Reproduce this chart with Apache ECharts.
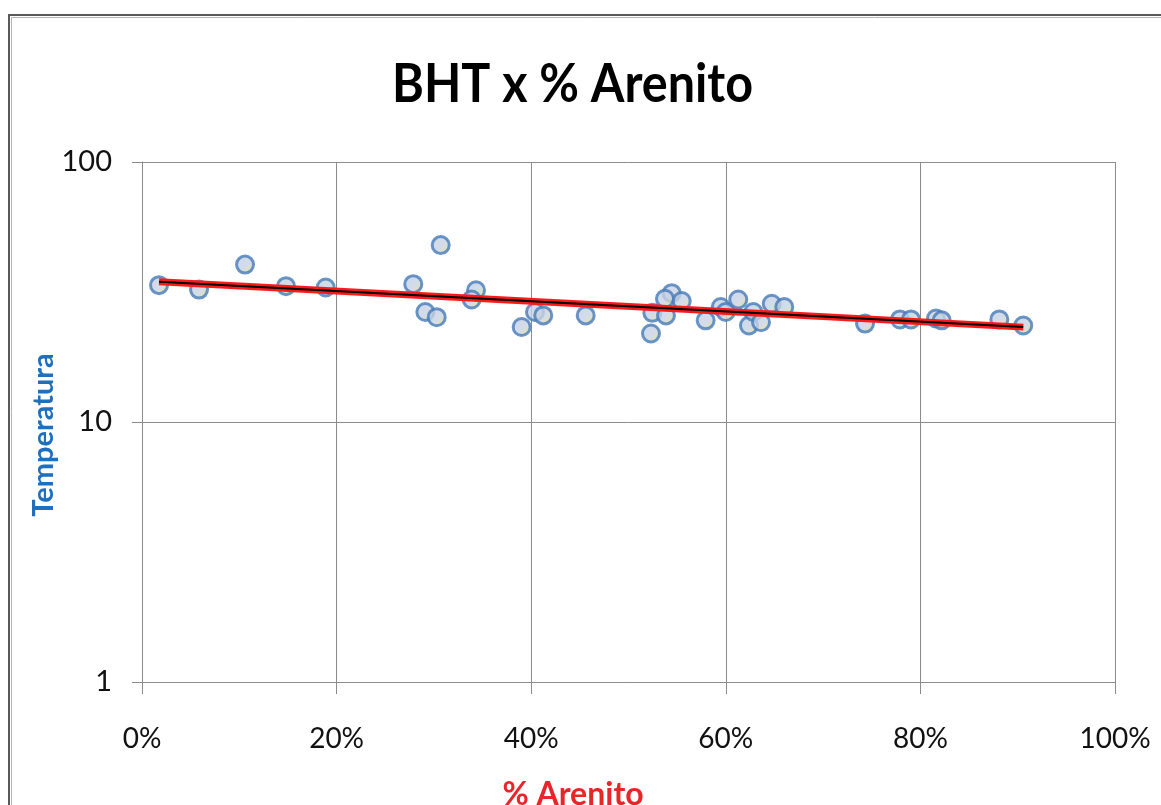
<!DOCTYPE html>
<html>
<head>
<meta charset="utf-8">
<title>BHT x % Arenito</title>
<script src="https://cdn.jsdelivr.net/npm/echarts@6/dist/echarts.min.js"></script>
<style>
  html, body { margin: 0; padding: 0; background: #ffffff; }
  #chart { width: 1161px; height: 805px; }
</style>
</head>
<body>
<div id="chart"></div>
<script>
// Sandstone fraction of each well (0–1) and the bottom-hole temperature read there
const arenito = [
  0.0175, 0.0586, 0.1059, 0.1480, 0.1888, 0.2788, 0.3070, 0.2912, 0.3029, 0.3433,
  0.3388, 0.3902, 0.4039, 0.4124, 0.4560, 0.5231, 0.5245, 0.5385, 0.5444, 0.5375,
  0.5547, 0.5793, 0.5948, 0.5999, 0.6128, 0.6238, 0.6283, 0.6362, 0.6472, 0.6601,
  0.7431, 0.7790, 0.7903, 0.8160, 0.8219, 0.8811, 0.9057
];
const temperatura = [
  33.6, 32.3, 40.3, 33.3, 32.9, 33.9, 47.9, 26.5, 25.3, 32.1,
  29.6, 23.2, 26.5, 25.7, 25.7, 21.9, 26.3, 25.7, 31.3, 29.8,
  29.2, 24.6, 27.7, 26.5, 29.6, 23.5, 26.5, 24.2, 28.5, 27.7,
  23.9, 24.8, 24.8, 25.0, 24.6, 24.8, 23.5
];

// Axis ticks
const xTicks = [0, 0.2, 0.4, 0.6, 0.8, 1.0];
const yTicks = [1, 10, 100];

const points = arenito.map((x, i) => [x, temperatura[i]]);

// Exponential trend line y = a·e^(b·x), least squares on ln(y)
function expFit(xs, ys) {
  const n = xs.length;
  let sx = 0, sy = 0, sxx = 0, sxy = 0;
  for (let i = 0; i < n; i++) {
    const ly = Math.log(ys[i]);
    sx += xs[i]; sy += ly; sxx += xs[i] * xs[i]; sxy += xs[i] * ly;
  }
  const b = (n * sxy - sx * sy) / (n * sxx - sx * sx);
  const a = Math.exp((sy - b * sx) / n);
  return { a, b };
}
const fit = expFit(arenito, temperatura);
const xMin = Math.min(...arenito), xMax = Math.max(...arenito);
const trend = [
  [xMin, fit.a * Math.exp(fit.b * xMin)],
  [xMax, fit.a * Math.exp(fit.b * xMax)]
];

const FONT = 'Lato';
const chart = echarts.init(document.getElementById('chart'), null, { renderer: 'canvas' });

chart.setOption({
  animation: false,
  backgroundColor: '#ffffff',
  grid: { left: 142, top: 162, right: 46, bottom: 123, containLabel: false },
  xAxis: {
    type: 'value',
    min: 0, max: 1, interval: 0.2,
    axisLine: { show: true, lineStyle: { color: '#8c8c8c', width: 1 } },
    axisTick: { show: true, length: 12, lineStyle: { color: '#8c8c8c' } },
    splitLine: { show: true, lineStyle: { color: '#8c8c8c', width: 1 } },
    axisLabel: {
      margin: 43,
      fontFamily: FONT, fontSize: 28, color: '#111',
      formatter: v => xTicks.some(t => Math.abs(t - v) < 1e-9) ? Math.round(v * 100) + '%' : ''
    }
  },
  yAxis: {
    type: 'log', logBase: 10,
    min: 1, max: 100,
    axisLine: { show: true, lineStyle: { color: '#8c8c8c', width: 1 } },
    axisTick: { show: true, length: 10, lineStyle: { color: '#8c8c8c' } },
    splitLine: { show: true, lineStyle: { color: '#8c8c8c', width: 1 } },
    minorTick: { show: false },
    axisLabel: {
      margin: 30,
      fontFamily: FONT, fontSize: 29, color: '#111',
      formatter: v => yTicks.some(t => Math.abs(t - v) < 1e-6) ? String(Math.round(v)) : ''
    }
  },
  graphic: [
    // outer frame
    { type: 'rect', silent: true, z: -10,
      shape: { x: 9, y: 15, width: 1200, height: 900 },
      style: { fill: 'none', stroke: '#5a5a5a', lineWidth: 2 } },
    { type: 'rect', silent: true, z: -10,
      shape: { x: 11.5, y: 17.5, width: 1200, height: 900 },
      style: { fill: 'none', stroke: '#b4b4b4', lineWidth: 1 } },
    // title
    { type: 'text', x: 572.5, y: 85, scaleX: 0.915, z: 10,
      style: { text: 'BHT x % Arenito', fontFamily: FONT, fontWeight: 'bold',
               fontSize: 53, fill: '#000', align: 'center', verticalAlign: 'middle' } },
    // y axis name
    { type: 'text', x: 44, y: 435, rotation: Math.PI / 2, z: 10,
      style: { text: 'Temperatura', fontFamily: FONT, fontWeight: 'bold', fontSize: 29,
               fill: '#1f6fc0', align: 'center', verticalAlign: 'middle' } },
    // x axis name
    { type: 'text', x: 573, y: 795, z: 10,
      style: { text: '% Arenito', fontFamily: FONT, fontWeight: 'bold', fontSize: 32,
               fill: '#e8262a', align: 'center', verticalAlign: 'middle' } }
  ],
  series: [
    {
      name: 'BHT',
      type: 'scatter',
      data: points,
      symbol: 'circle',
      symbolSize: 17,
      z: 2,
      itemStyle: {
        color: new echarts.graphic.LinearGradient(0, 0, 1, 1, [
          { offset: 0, color: '#bfcde6' },
          { offset: 0.55, color: '#c9d3e4' },
          { offset: 1, color: '#e4e070' }
        ]),
        borderColor: '#467ab8',
        borderWidth: 3
      }
    },
    {
      name: 'Tendência',
      type: 'line',
      data: trend,
      symbol: 'none',
      z: 3,
      lineStyle: { color: '#ff1a1a', width: 7 }
    },
    {
      name: 'Tendência (núcleo)',
      type: 'line',
      data: trend,
      symbol: 'none',
      z: 4,
      lineStyle: { color: '#000000', width: 2 }
    }
  ]
});
</script>
</body>
</html>
